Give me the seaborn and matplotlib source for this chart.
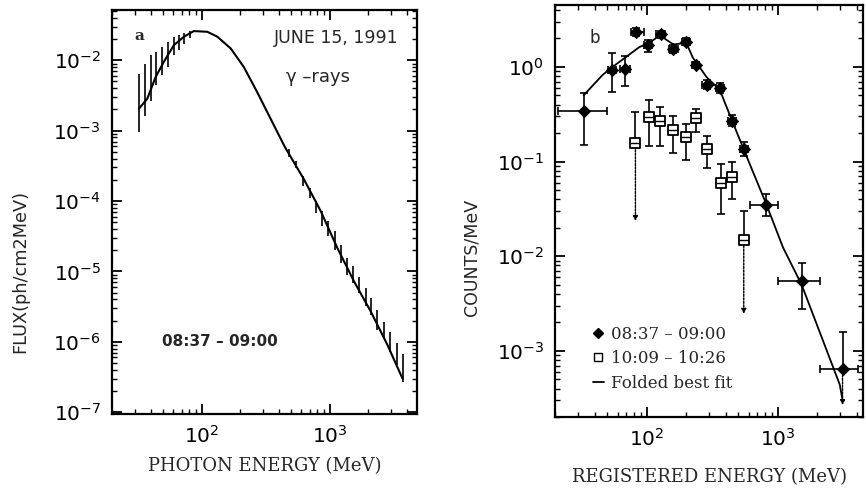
import numpy as np
import pandas as pd
import matplotlib
matplotlib.use("Agg")
import matplotlib.pyplot as plt
from matplotlib.lines import Line2D
from matplotlib.ticker import LogLocator, NullFormatter, FixedLocator, FixedFormatter
import seaborn as sns

# ---------------- Panel a : photon spectrum ----------------
flux_energy = [32.4, 37.7, 43.8, 50.7, 60.8, 72.8, 87, 111, 133, 169, 214, 272, 336,
               446, 629, 851, 1148, 1549, 2090, 2825, 3700]
flux_value = [0.00204, 0.00284, 0.00577, 0.00946, 0.0164, 0.0216, 0.026, 0.0254, 0.0216,
              0.0147, 0.0080, 0.00352, 0.00164, 5.9e-4, 2.04e-4, 7.2e-5, 2.15e-5, 7.2e-6,
              2.7e-6, 9.0e-7, 3.0e-7]

bar_energy = [32.4, 35.9, 40, 44.5, 49.3, 54.6, 60.8, 66.6, 73.6, 80.6,
              481, 545, 622, 702, 778, 877, 971, 1094, 1219, 1374, 1531, 1694, 1910,
              2117, 2359, 2656, 2958, 3336, 3767]
bar_high = [0.00645, 0.00897, 0.0118, 0.0131, 0.0155, 0.0182, 0.0215, 0.0228, 0.0241, 0.026,
            5.4e-4, 3.7e-4, 2.28e-4, 1.55e-4, 1.0e-4, 7.2e-5, 5.2e-5, 3.7e-5, 2.4e-5, 1.55e-5,
            1.18e-5, 8.2e-6, 5.8e-6, 4.2e-6, 2.8e-6, 1.93e-6, 1.39e-6, 9.5e-7, 6.8e-7]
bar_low = [9.5e-4, 0.00164, 0.00268, 0.0044, 0.0061, 0.0080, 0.0118, 0.0139, 0.0173, 0.0204,
           4.2e-4, 2.9e-4, 1.64e-4, 1.11e-4, 6.8e-5, 4.4e-5, 3.2e-5, 2.04e-5, 1.3e-5, 9e-6,
           6.8e-6, 4.9e-6, 3.2e-6, 2.4e-6, 1.47e-6, 1.12e-6, 7.2e-7, 4.6e-7, 2.7e-7]

# ---------------- Panel b : registered counts ----------------
early_energy = [33, 54, 68, 83, 102, 128, 159, 200, 237, 286, 361, 448, 550, 820, 1520, 3120]
early_counts = [0.34, 0.93, 0.95, 2.35, 1.70, 2.21, 1.54, 1.85, 1.05, 0.65, 0.60, 0.27,
                0.134, 0.035, 0.0055, 6.5e-4]
early_low = [0.15, 0.54, 0.62, 2.1, 1.45, 2.0, 1.4, 1.7, 0.98, 0.58, 0.53, 0.24,
             0.115, 0.0266, 0.0028, 2.5e-4]
early_high = [0.53, 1.41, 1.3, 2.6, 1.92, 2.4, 1.7, 2.0, 1.12, 0.72, 0.68, 0.31,
              0.16, 0.045, 0.0084, 1.6e-3]
early_elow = [21, 51, 62.5, 76, 95, 118, 148, 185, 222, 265, 335, 415, 515, 610, 1010, 2090]
early_ehigh = [50, 58, 75, 95, 110, 138, 172, 215, 252, 305, 390, 480, 590, 1010, 2090, 4070]
early_arrow = [False] * 15 + [True]

late_energy = [82, 104, 127, 159, 198, 237, 286, 367, 448, 550]
late_counts = [0.155, 0.295, 0.266, 0.217, 0.182, 0.288, 0.134, 0.0595, 0.068, 0.015]
late_low = [0.022, 0.145, 0.145, 0.123, 0.105, 0.203, 0.086, 0.0276, 0.04, 0.0023]
late_high = [0.33, 0.45, 0.38, 0.30, 0.25, 0.36, 0.185, 0.093, 0.099, 0.030]
late_arrow = [True, False, False, False, False, False, False, False, False, True]

fit_energy = [33, 46, 55, 70, 88, 102, 126, 160, 200, 225, 286, 361, 448, 550, 820,
              1095, 1520, 2970, 3120]
fit_counts = [0.50, 0.82, 1.0, 1.28, 1.62, 1.75, 2.15, 1.72, 1.80, 1.25, 0.78, 0.57, 0.27,
              0.134, 0.035, 0.0124, 0.005, 4.4e-4, 3.0e-4]

legend_labels = ["08:37 \u2013 09:00", "10:09 \u2013 10:26", "Folded best fit"]

# ---------------- style ----------------
sns.set_theme(style="ticks")
plt.rcParams["font.family"] = ["DejaVu Sans"]
plt.rcParams["axes.unicode_minus"] = False
plt.rcParams["mathtext.default"] = "regular"

fig = plt.figure(figsize=(8.66, 4.91), dpi=100)
fig.patch.set_facecolor("white")
axa = fig.add_axes([0.1293, 0.1568, 0.3522, 0.8228])
axb = fig.add_axes([0.641, 0.1507, 0.356, 0.8391])

serif = ["DejaVu Serif"]


def style_axis(ax, yticks, xlim, ylim):
    ax.set_xscale("log")
    ax.set_yscale("log")
    ax.set_xlim(*xlim)
    ax.set_ylim(*ylim)
    ax.set_facecolor("white")
    for s in ax.spines.values():
        s.set_linewidth(1.6)
        s.set_color("black")
        s.set_visible(True)
    ax.xaxis.set_major_locator(FixedLocator([100, 1000]))
    ax.xaxis.set_major_formatter(FixedFormatter([r"$10^{2}$", r"$10^{3}$"]))
    ax.xaxis.set_minor_locator(LogLocator(base=10, subs=np.arange(2, 10), numticks=20))
    ax.xaxis.set_minor_formatter(NullFormatter())
    ax.yaxis.set_major_locator(FixedLocator([10.0 ** e for e in yticks]))
    ax.yaxis.set_major_formatter(FixedFormatter([r"$10^{%d}$" % e for e in yticks]))
    ax.yaxis.set_minor_locator(LogLocator(base=10, subs=np.arange(2, 10), numticks=20))
    ax.yaxis.set_minor_formatter(NullFormatter())
    ax.tick_params(which="both", direction="in", top=True, right=True, color="black",
                   labelcolor="black")
    ax.tick_params(which="major", length=7, width=1.3, labelsize=14.5, pad=8)
    ax.tick_params(which="minor", length=3.5, width=1.0)
    ax.grid(False)


# ---- panel a ----
dfa = pd.DataFrame({"E": flux_energy, "F": flux_value})
sns.lineplot(data=dfa, x="E", y="F", ax=axa, color="black", lw=1.5, estimator=None, sort=False)
axa.vlines(bar_energy, bar_low, bar_high, color="black", lw=1.2)
style_axis(axa, [-7, -6, -5, -4, -3, -2], (20, 4800), (9.4e-8, 0.0518))
axa.set_xlabel("PHOTON ENERGY (MeV)", family=serif, fontsize=13, labelpad=7)
axa.set_ylabel("FLUX(ph/cm2MeV)", fontsize=12.8)
axa.yaxis.set_label_coords(-0.27, 0.354)
axa.text(0.075, 0.935, "a", transform=axa.transAxes, family=serif, fontweight="bold",
         fontsize=11, va="center")
axa.text(0.94, 0.93, "JUNE 15, 1991", transform=axa.transAxes, fontsize=12.5,
         ha="right", va="center")
axa.text(0.57, 0.835, "\u03b3 \u2013rays", transform=axa.transAxes, fontsize=13,
         ha="left", va="center")
axa.text(0.165, 0.18, "08:37 \u2013 09:00", transform=axa.transAxes, fontsize=11,
         fontweight="bold", ha="left", va="center")

# ---- panel b ----
dff = pd.DataFrame({"E": fit_energy, "C": fit_counts})
sns.lineplot(data=dff, x="E", y="C", ax=axb, color="black", lw=1.3, estimator=None, sort=False)

de = pd.DataFrame({"E": early_energy, "C": early_counts, "lo": early_low, "hi": early_high,
                   "elo": early_elow, "ehi": early_ehigh, "arrow": early_arrow})
dl = pd.DataFrame({"E": late_energy, "C": late_counts, "lo": late_low, "hi": late_high,
                   "arrow": late_arrow})

for d, has_x in ((de, True), (dl, False)):
    nd = d[~d["arrow"]]
    yerr = [nd["C"] - nd["lo"], nd["hi"] - nd["C"]]
    xerr = [nd["E"] - nd["elo"], nd["ehi"] - nd["E"]] if has_x else None
    axb.errorbar(nd["E"], nd["C"], yerr=yerr, xerr=xerr, fmt="none", ecolor="black",
                 elinewidth=1.2, capsize=3, capthick=1.2)
    ad = d[d["arrow"]]
    xerr = [ad["E"] - ad["elo"], ad["ehi"] - ad["E"]] if has_x else None
    axb.errorbar(ad["E"], ad["C"], yerr=[np.zeros(len(ad)), ad["hi"] - ad["C"]], xerr=xerr,
                 fmt="none", ecolor="black", elinewidth=1.2, capsize=3, capthick=1.2)
    for _, r in ad.iterrows():
        axb.annotate("", xy=(r["E"], r["lo"]), xytext=(r["E"], r["C"]),
                     arrowprops=dict(arrowstyle="-|>", color="black", lw=1.0,
                                     mutation_scale=7, linestyle=(0, (1.5, 1))))

sns.scatterplot(data=de, x="E", y="C", ax=axb, marker="D", s=40, color="black",
                edgecolor="black", zorder=5)
sns.scatterplot(data=dl, x="E", y="C", ax=axb, marker="s", s=45, facecolor="white",
                edgecolor="black", linewidth=1.3, zorder=5)
axb.scatter(dl["E"], dl["C"], marker="_", s=45, color="black", linewidth=1.0, zorder=6)

style_axis(axb, [-3, -2, -1, 0], (20, 4500), (2.0e-4, 4.5))
axb.set_xlabel("REGISTERED ENERGY (MeV)", family=serif, fontsize=13, labelpad=13)
axb.set_ylabel("COUNTS/MeV", fontsize=12.5)
axb.yaxis.set_label_coords(-0.241, 0.388)
axb.text(0.11, 0.92, "b", transform=axb.transAxes, fontsize=12, va="center")

handles = [Line2D([], [], marker="D", color="black", ls="none", markersize=5),
           Line2D([], [], marker="s", color="black", mfc="white", ls="none", markersize=6),
           Line2D([], [], color="black", lw=1.3)]
leg = axb.legend(handles, legend_labels, loc="lower left", bbox_to_anchor=(0.1, 0.045),
                 frameon=False, prop={"family": serif, "size": 12}, handlelength=0.7,
                 handletextpad=0.4, labelspacing=0.45, borderaxespad=0)

fig.savefig("out.png", dpi=100, facecolor="white")
